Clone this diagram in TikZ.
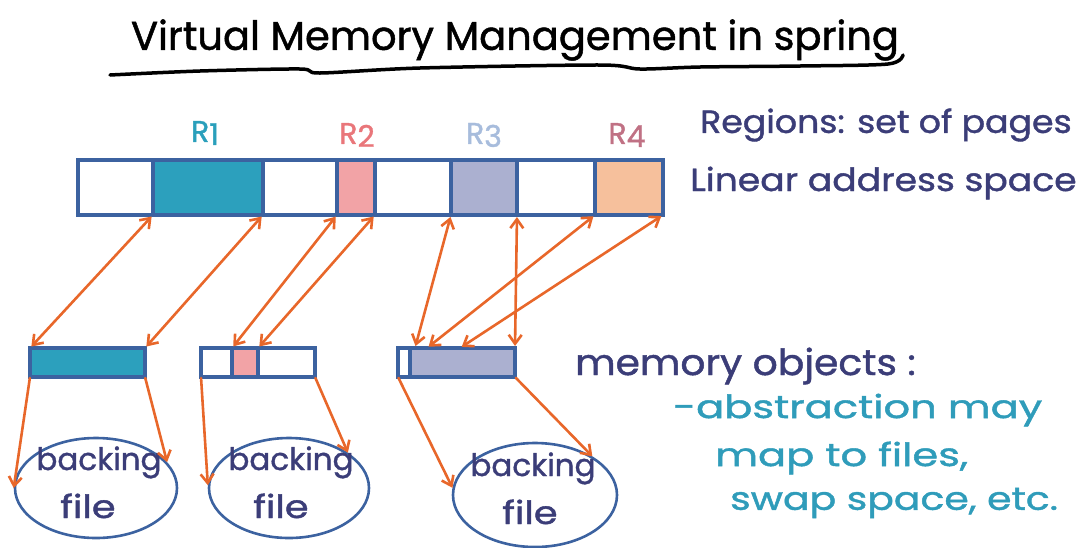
\documentclass[tikz,border=0pt]{standalone}
\usepackage{fontspec}
\setmainfont{Poppins}[FakeBold=1.2]
\newfontfamily\handf{Poppins}[FakeBold=1.2]
\usetikzlibrary{arrows.meta,shapes.geometric}
\definecolor{navy}{HTML}{3B3D78}
\definecolor{boxblue}{HTML}{3C62A0}
\definecolor{tealf}{HTML}{2CA0BD}
\definecolor{pinkf}{HTML}{F2A3A6}
\definecolor{lavf}{HTML}{ABB0D0}
\definecolor{peachf}{HTML}{F6C09C}
\definecolor{arr}{HTML}{E8672A}
\definecolor{rone}{HTML}{2A9FBB}
\definecolor{rtwo}{HTML}{E9767A}
\definecolor{rthree}{HTML}{A7BCDC}
\definecolor{rfour}{HTML}{C07184}
\definecolor{cyantext}{HTML}{2F9CBA}
\tikzset{
  cell/.style={draw=boxblue, line width=4pt, inner sep=0pt, outer sep=0pt,
    anchor=north west, minimum height=55pt},
  ocell/.style={draw=boxblue, line width=4pt, inner sep=0pt, outer sep=0pt,
    anchor=north west, minimum height=29pt},
  bfile/.style={draw=boxblue, line width=2.6pt, ellipse, inner sep=0pt},
  biarr/.style={arr, line width=2.6pt, line cap=round, {Straight Barb[length=9pt,width=13pt]}-{Straight Barb[length=9pt,width=13pt]}, shorten <=2pt, shorten >=2pt},
  oarr/.style={arr, line width=2.6pt, line cap=round, -{Straight Barb[length=9pt,width=13pt]}, shorten <=1pt},
  hand/.style={text=navy, inner sep=0pt},
  ctext/.style={text=cyantext, inner sep=0pt, anchor=west, font=\handf\fontsize{32}{34}\selectfont},
  rlab/.style={inner sep=0pt, font=\handf\fontsize{30}{32}\selectfont},
}
\begin{document}
\begin{tikzpicture}[x=1pt,y=-1pt]
\useasboundingbox (0,0) rectangle (1087,547);
% title
\node[inner sep=0pt, font=\handf\fontsize{40}{44}\selectfont] (title) at (515,40) {Virtual Memory Management in spring};
\draw[line width=3.5pt, line cap=round] plot[smooth] coordinates {(110,75) (200,71) (300,69) (320,73) (420,68) (600,65) (640,69) (700,67) (800,66) (888,64) (903,55)};
% top bar cells
\node[cell, minimum width=75pt] (c0) at (78,160) {};
\node[cell, minimum width=110pt, fill=tealf] (r1) at (153,160) {};
\node[cell, minimum width=74pt] (c2) at (263,160) {};
\node[cell, minimum width=38pt, fill=pinkf] (r2) at (337,160) {};
\node[cell, minimum width=76pt] (c4) at (375,160) {};
\node[cell, minimum width=66pt, fill=lavf] (r3) at (451,160) {};
\node[cell, minimum width=78pt] (c6) at (517,160) {};
\node[cell, minimum width=68pt, fill=peachf] (r4) at (595,160) {};
% region labels
\node[rlab, text=rone] (l1) at (205,133) {R\raisebox{-3pt}{1}};
\node[rlab, text=rtwo] (l2) at (357,135) {R\raisebox{-3pt}{2}};
\node[rlab, text=rthree] (l3) at (484,135) {R\raisebox{-3pt}{3}};
\node[rlab, text=rfour] (l4) at (627,135) {R\raisebox{-3pt}{4}};
% right texts
\node[hand, anchor=west, font=\handf\fontsize{32}{34}\selectfont] (regions) at (700,125) {\scalebox{1.085}[1]{Regions: set of pages}};
\node[hand, anchor=west, font=\handf\fontsize{32}{34}\selectfont] (linear) at (690,183) {\scalebox{1.13}[1]{Linear address space}};
% memory objects
\node[ocell, minimum width=115pt, fill=tealf] (o1) at (30,348) {};
\node[ocell, minimum width=31pt] (o2a) at (201,348) {};
\node[ocell, minimum width=26pt, fill=pinkf] (o2b) at (232,348) {};
\node[ocell, minimum width=57pt] (o2c) at (258,348) {};
\node[ocell, minimum width=12pt] (o3a) at (398,348) {};
\node[ocell, minimum width=105pt, fill=lavf] (o3b) at (410,348) {};
% ellipses
\node[bfile, minimum width=162pt, minimum height=100pt] (e1) at (96,488) {};
\node[bfile, minimum width=160pt, minimum height=100pt] (e2) at (289,488) {};
\node[bfile, minimum width=164pt, minimum height=104pt] (e3) at (535,495) {};
\node[hand, font=\handf\fontsize{31}{32}\selectfont, anchor=base] (b1) at (99,470) {backing};
\node[hand, font=\handf\fontsize{32}{32}\selectfont, anchor=base] (f1) at (88,518) {\scalebox{1.2}[1]{file}};
\node[hand, font=\handf\fontsize{31}{32}\selectfont, anchor=base] (b2) at (291,470) {backing};
\node[hand, font=\handf\fontsize{32}{32}\selectfont, anchor=base] (f2) at (281,518) {\scalebox{1.2}[1]{file}};
\node[hand, font=\handf\fontsize{31}{32}\selectfont, anchor=base] (b3) at (533,476) {backing};
\node[hand, font=\handf\fontsize{32}{32}\selectfont, anchor=base] (f3) at (530,524) {\scalebox{1.2}[1]{file}};
% right description
\node[hand, anchor=west, font=\handf\fontsize{36}{38}\selectfont] (mo) at (575,366) {\scalebox{1.09}[1]{memory objects :}};
\node[ctext] (t1) at (673,410) {\scalebox{1.3}[1]{-abstraction may}};
\node[ctext] (t2) at (715,458) {\scalebox{1.3}[1]{map to files,}};
\node[ctext] (t3) at (730,503) {\scalebox{1.23}[1]{swap space, etc.}};
% region <-> object arrows
\draw[biarr] (r1.south west) -- (o1.north west);
\draw[biarr] (r1.south east) -- (o1.north east);
\draw[biarr] (r2.south west) -- (o2b.north west);
\draw[biarr] (r2.south east) -- (o2b.north east);
\draw[biarr] (r3.south west) -- ([xshift=5pt]o3b.north west);
\draw[biarr] (r3.south east) -- (o3b.north east);
\draw[biarr] (r4.south west) -- ([xshift=17pt]o3b.north west);
\draw[biarr] (r4.south east) -- ([xshift=50pt]o3b.north west);
% object -> backing file arrows
\draw[oarr] (o1.south west) -- (e1.180);
\draw[oarr] (o1.south east) -- (e1.20);
\draw[oarr] (o2a.south west) -- (e2.178);
\draw[oarr] (o2c.south east) -- (e2.31);
\draw[oarr] (o3a.south west) -- (e3.175);
\draw[oarr] (o3b.south east) -- (e3.34);
\end{tikzpicture}
\end{document}
